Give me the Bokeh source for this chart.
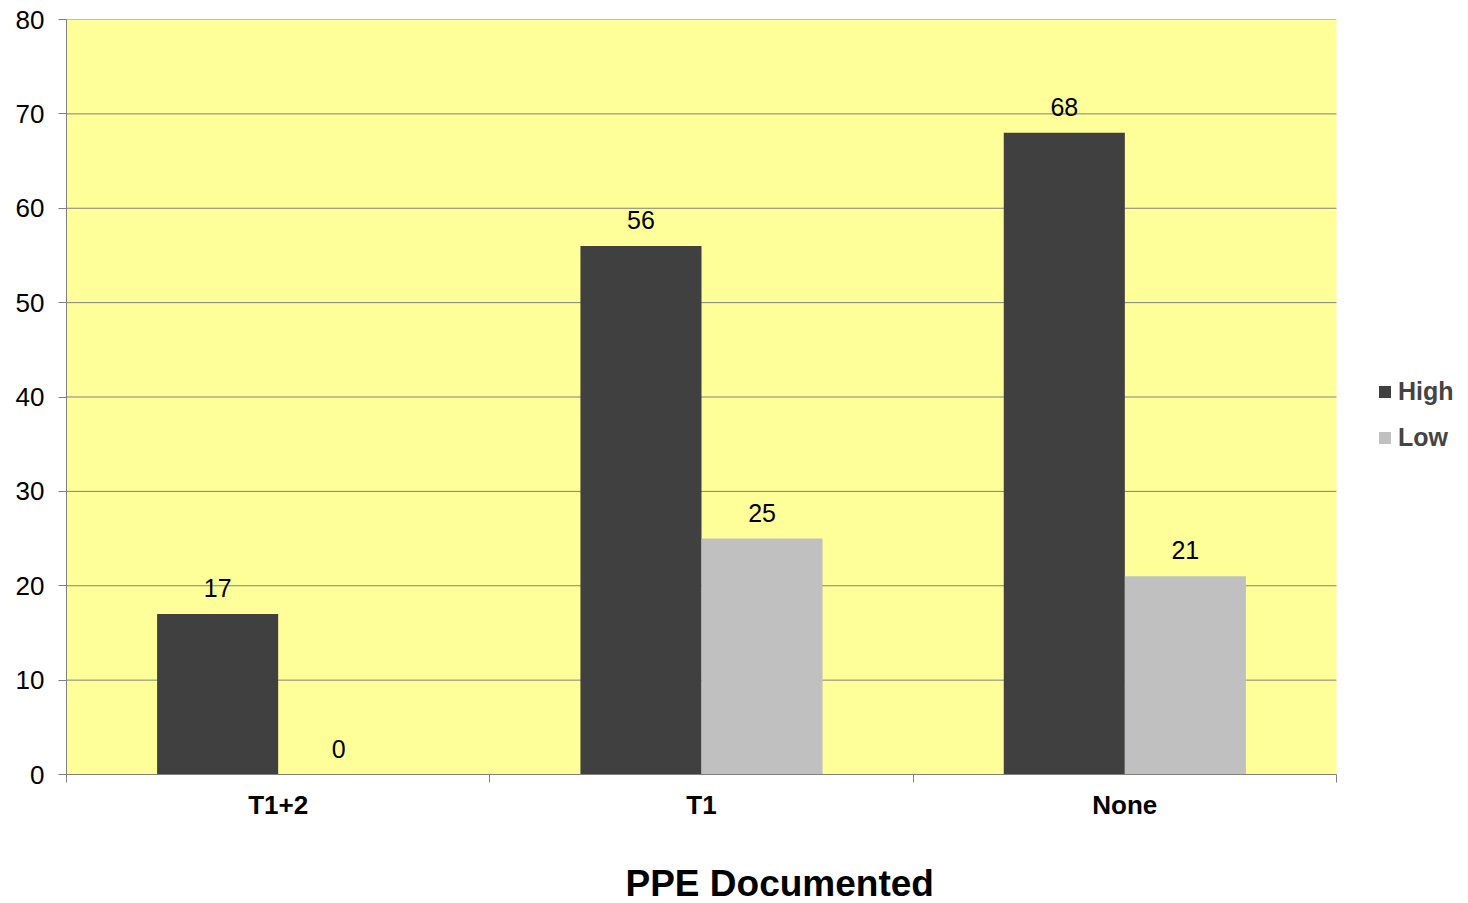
from bokeh.plotting import figure
from bokeh.models import Range1d, FixedTicker, Legend, LegendItem, Title, ColumnDataSource, LinearAxis
from bokeh.core.properties import value
from bokeh.embed import file_html
from bokeh.resources import INLINE

# Data
categories = ["T1+2", "T1", "None"]
high = [17, 56, 68]
low = [0, 25, 21]
series_names = ["High", "Low"]
y_ticks = [0, 10, 20, 30, 40, 50, 60, 70, 80]

YELLOW = "#FFFF99"
DARK = "#404040"
LIGHT = "#C0C0C0"
GRID = "#808080"
FONT = "Liberation Sans"

W, H = 1468, 903
LEFT, TOP, BOTTOM = 66, 19, 129
AREA_W = 1270          # pixel width of the yellow plotting area
n = len(categories)
y_max = y_ticks[-1]

BAR_W = 0.286
idx = list(range(n))
x_high = [i + 0.5 - BAR_W / 2 for i in idx]
x_low = [i + 0.5 + BAR_W / 2 for i in idx]

# the frame runs to the right edge so the legend can sit beside the plotting area
x_end = n * (W - LEFT) / AREA_W
p = figure(width=W, height=H, output_backend="svg", toolbar_location=None,
           x_range=Range1d(0, x_end), y_range=Range1d(0, y_max))
p.min_border_left = LEFT
p.min_border_right = 0
p.min_border_top = TOP
p.min_border_bottom = BOTTOM
p.border_fill_color = "white"
p.background_fill_color = "white"
p.outline_line_color = None

# yellow plotting area and horizontal grid lines
p.quad(left=[0], right=[n], bottom=[0], top=[y_max], fill_color=YELLOW, line_color=None,
       level="image")
p.segment(x0=[0] * len(y_ticks), x1=[n] * len(y_ticks), y0=y_ticks, y1=y_ticks,
          line_color=GRID, line_width=1, level="underlay")

src_h = ColumnDataSource(dict(x=x_high, top=high, lbl=[str(v) for v in high]))
src_l = ColumnDataSource(dict(x=x_low, top=low, lbl=[str(v) for v in low]))

r_high = p.vbar(x="x", top="top", width=BAR_W, source=src_h, fill_color=DARK, line_color=None)
r_low = p.vbar(x="x", top="top", width=BAR_W, source=src_l, fill_color=LIGHT, line_color=None)

# value labels above each bar
for s in (src_h, src_l):
    p.text(x="x", y="top", text="lbl", source=s, text_align="center", text_baseline="middle",
           y_offset=-26, text_font=value(FONT), text_font_size="25px", text_color="black")

p.xgrid.grid_line_color = None
p.ygrid.grid_line_color = None

# Y axis
p.yaxis.ticker = FixedTicker(ticks=y_ticks)
p.yaxis.axis_line_color = GRID
p.yaxis.major_tick_line_color = GRID
p.yaxis.major_tick_out = 8
p.yaxis.major_tick_in = 0
p.yaxis.minor_tick_line_color = None
p.yaxis.major_label_standoff = 14
p.yaxis.major_label_text_font = FONT
p.yaxis.major_label_text_font_size = "26px"
p.yaxis.major_label_text_color = "black"

# X axis: labels centred on categories, tick marks at category boundaries
centers = [i + 0.5 for i in idx]
p.xaxis.bounds = (0, n)
p.xaxis.ticker = FixedTicker(ticks=centers, minor_ticks=list(range(n + 1)))
p.xaxis.major_label_overrides = {c: cat for c, cat in zip(centers, categories)}
p.xaxis.axis_line_color = GRID
p.xaxis.major_tick_line_color = None
p.xaxis.major_tick_out = 0
p.xaxis.major_tick_in = 0
p.xaxis.minor_tick_line_color = GRID
p.xaxis.minor_tick_out = 8
p.xaxis.minor_tick_in = 0
p.xaxis.major_label_standoff = 7
p.xaxis.major_label_text_font = FONT
p.xaxis.major_label_text_font_style = "bold"
p.xaxis.major_label_text_font_size = "26px"
p.xaxis.major_label_text_color = "black"

# blank gap between the category labels and the axis title
gap = LinearAxis(ticker=FixedTicker(ticks=[0]), major_label_overrides={0: ""},
                 axis_line_alpha=0, major_tick_line_alpha=0, minor_tick_line_alpha=0,
                 major_tick_out=38, major_tick_in=0, major_label_standoff=0,
                 major_label_text_font_size="1px", major_label_text_alpha=0)
p.add_layout(gap, "below")

# Axis title below
t = Title(text="PPE Documented", align="left", offset=559, vertical_align="bottom",
          text_font=FONT, text_font_size="37px", text_font_style="bold", text_color="black",
          standoff=0)
p.add_layout(t, "below")

legend = Legend(items=[LegendItem(label=series_names[0], renderers=[r_high]),
                       LegendItem(label=series_names[1], renderers=[r_low])],
                location=(1377 - LEFT, 322), glyph_width=15, glyph_height=15, label_height=30,
                spacing=16, padding=0, margin=0, border_line_color=None,
                background_fill_alpha=0, label_text_font=FONT, label_text_font_size="25px",
                label_text_font_style="bold", label_standoff=6)
p.add_layout(legend, "center")

open("out.html", "w").write(file_html(p, INLINE))
